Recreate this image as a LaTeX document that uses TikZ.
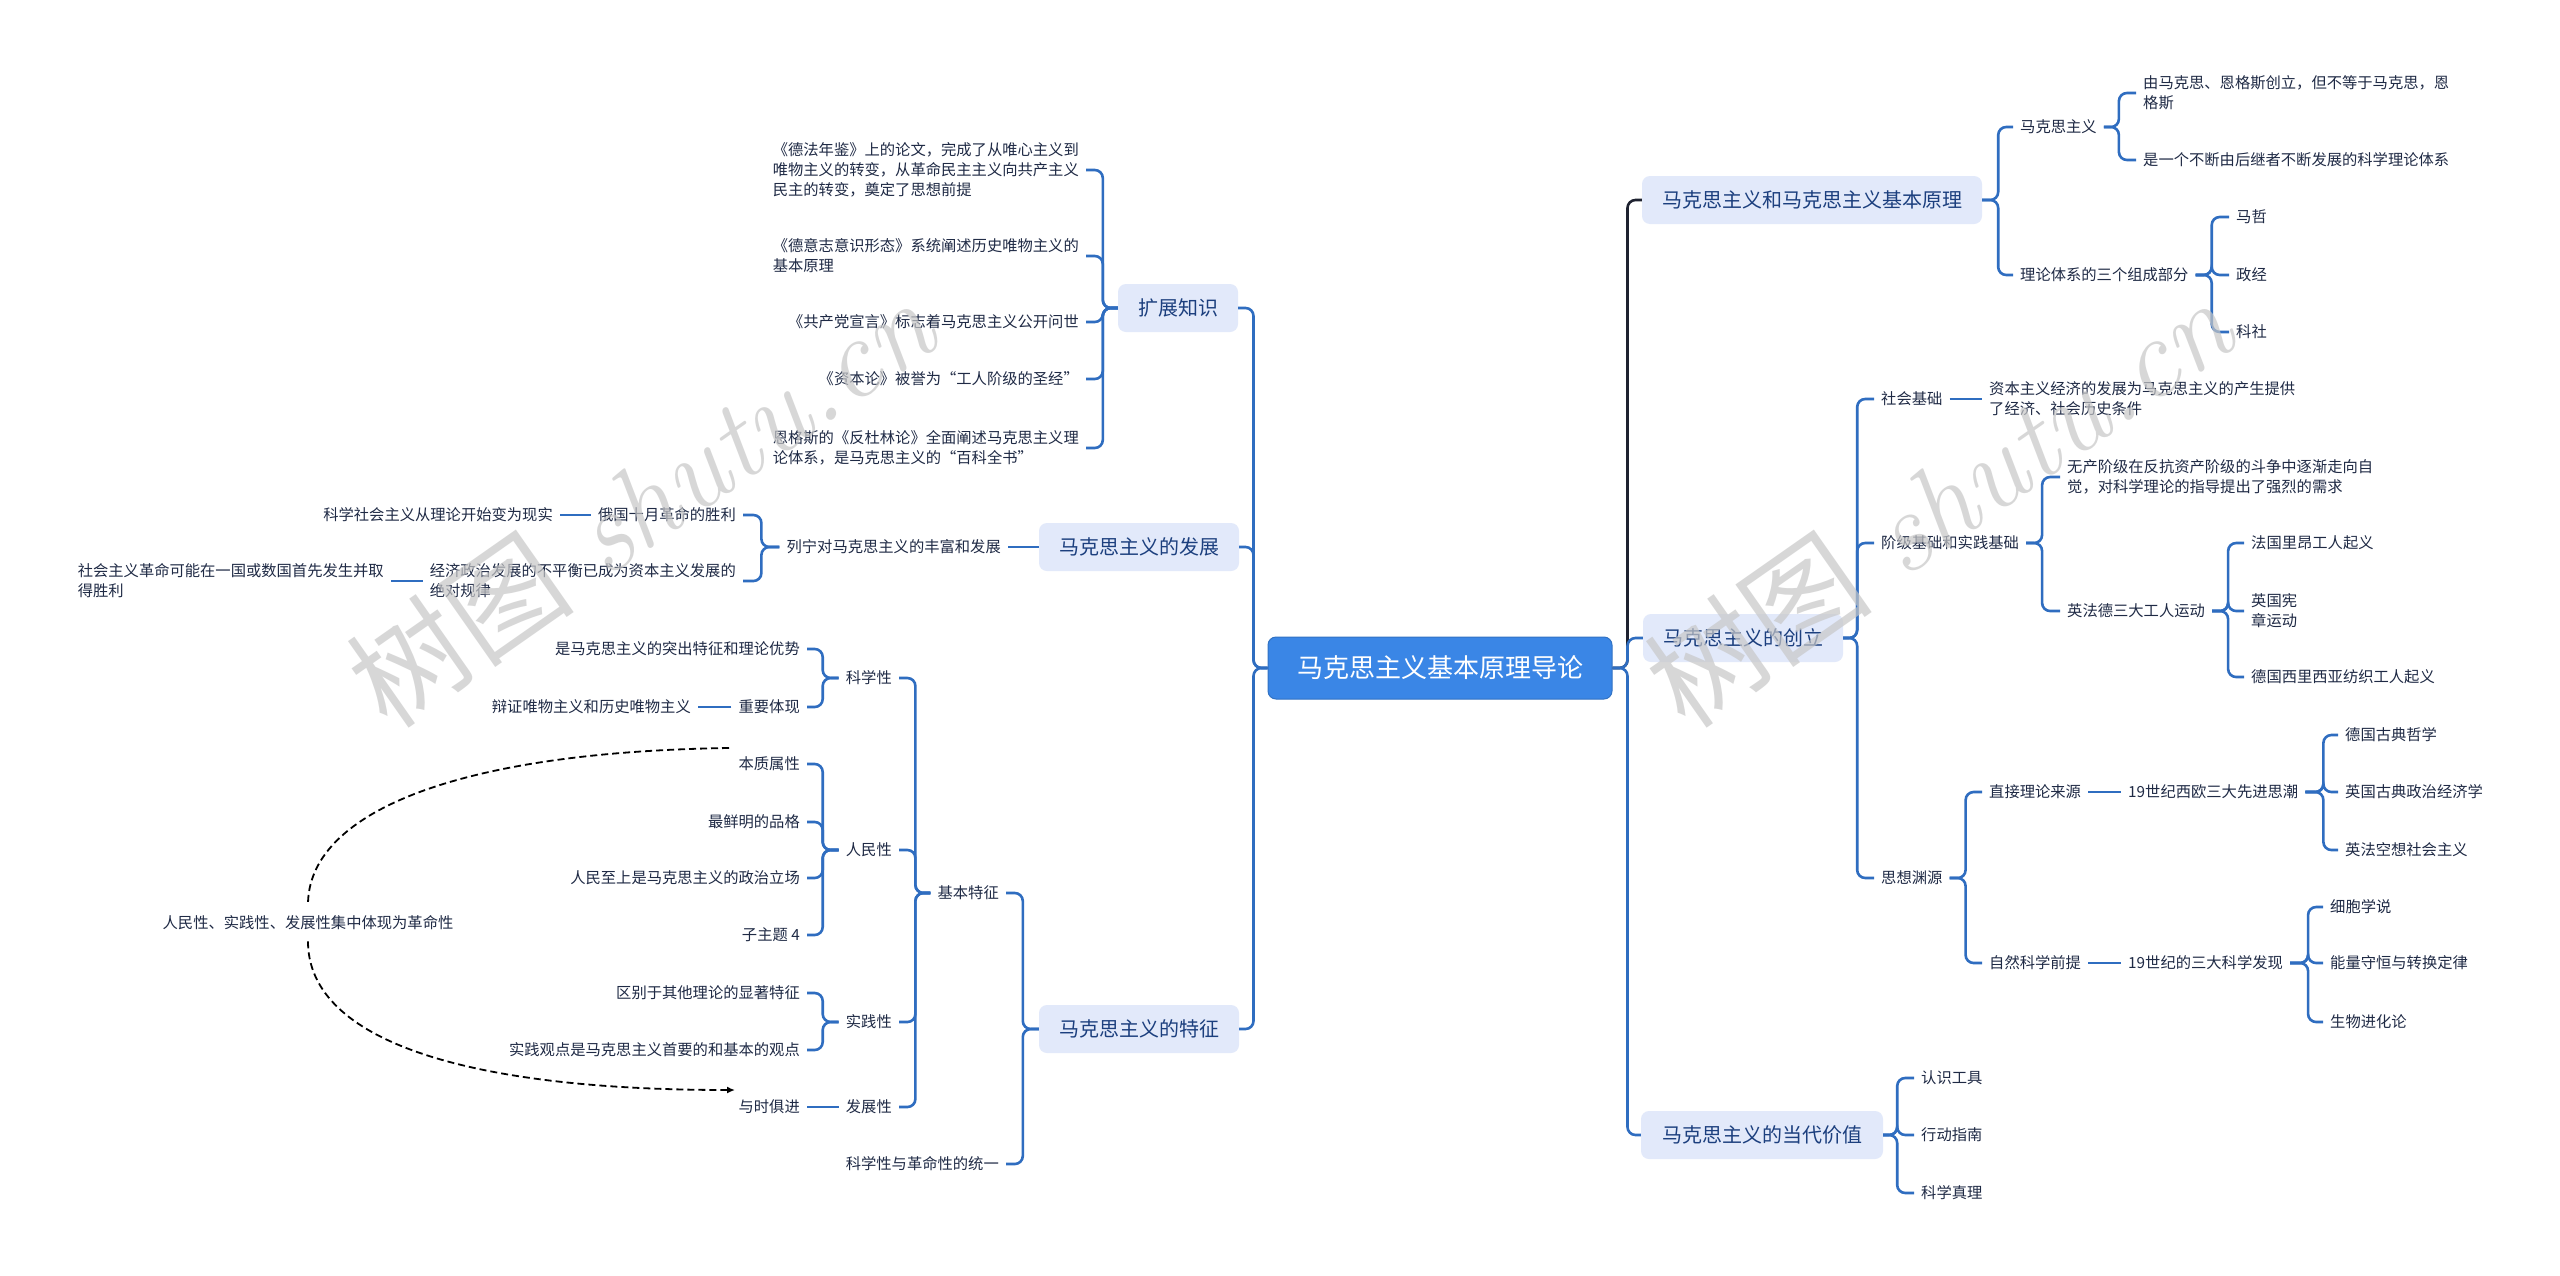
\documentclass[tikz,border=0pt]{standalone}
\usepackage{fontspec}
\newfontfamily\cjk{Noto Sans CJK SC}
\usetikzlibrary{arrows.meta}
\definecolor{trait}{HTML}{2F6DC0}
\definecolor{traitfonce}{HTML}{1E2230}
\definecolor{fondtheme}{HTML}{E2E9FA}
\definecolor{textetheme}{HTML}{1C3F7E}
\definecolor{texte}{HTML}{1F2A45}
\definecolor{fondracine}{HTML}{3A86E6}
\begin{document}
\begin{tikzpicture}[x=1pt,y=-1pt,
  feuille/.style={font=\cjk\fontsize{15.3}{20}\selectfont, text=texte, inner xsep=7pt, inner ysep=2pt, align=left},
  fd/.style={feuille, anchor=west, xshift=-7pt},
  fg/.style={feuille, anchor=east, xshift=7pt},
  theme/.style={rounded corners=8pt, fill=fondtheme, text=textetheme, font=\cjk\fontsize{20}{24}\selectfont, inner xsep=20pt, inner ysep=0pt, minimum height=48pt},
  racine/.style={rounded corners=8pt, fill=fondracine, draw=fondracine!85!black, line width=1pt, text=white, font=\cjk\fontsize{26}{30}\selectfont, inner xsep=29pt, minimum height=62pt},
  lien/.style={draw=trait, line width=2.6pt, rounded corners=8pt},
  lienfonce/.style={lien, draw=traitfonce},
  relation/.style={draw=black, line width=1.8pt, dash pattern=on 7pt off 4pt},
  filigrane/.style={text=black!22, opacity=.7, rotate=35, font=\fontsize{115}{120}\selectfont}]
  % Fond
  \useasboundingbox (0,0) rectangle (2560,1275);
  \fill[white] (0,0) rectangle (2560,1275);

  % Racine et themes
  \node[racine] (racine) at (1440,668) {马克思主义基本原理导论};
  \node[theme] (principes) at (1812,200) {马克思主义和马克思主义基本原理};
  \node[theme] (creation) at (1743,638) {马克思主义的创立};
  \node[theme, inner xsep=21pt] (valeur) at (1762,1135) {马克思主义的当代价值};
  \node[theme] (savoirs) at (1178,308) {扩展知识};
  \node[theme] (evolution) at (1139,547) {马克思主义的发展};
  \node[theme] (traits) at (1139,1029) {马克思主义的特征};

  % Principes
  \node[fd] (marxisme) at (2020,127) {马克思主义};
  \node[fd] (systeme) at (2020,275) {理论体系的三个组成部分};
  \node[fd] (fondA) at (2143,93) {由马克思、恩格斯创立，但不等于马克思，恩\\格斯};
  \node[fd] (fondB) at (2143,160) {是一个不断由后继者不断发展的科学理论体系};
  \node[fd] (philo) at (2236,217) {马哲};
  \node[fd] (eco) at (2236,275) {政经};
  \node[fd] (socia) at (2236,332) {科社};

  % Creation
  \node[fd] (social) at (1881,399) {社会基础};
  \node[fd] (conditions) at (1989,399) {资本主义经济的发展为马克思主义的产生提供\\了经济、社会历史条件};
  \node[fd] (classe) at (1881,543) {阶级基础和实践基础};
  \node[fd] (proletariat) at (2067,477) {无产阶级在反抗资产阶级的斗争中逐渐走向自\\觉，对科学理论的指导提出了强烈的需求};
  \node[fd] (ouvriers) at (2067,611) {英法德三大工人运动};
  \node[fd] (lyon) at (2251,543) {法国里昂工人起义};
  \node[fd] (chartisme) at (2251,611) {英国宪\\章运动};
  \node[fd] (silesie) at (2251,677) {德国西里西亚纺织工人起义};
  \node[fd] (sources) at (1881,878) {思想渊源};
  \node[fd] (directe) at (1989,792) {直接理论来源};
  \node[fd] (courants) at (2128,792) {19世纪西欧三大先进思潮};
  \node[fd] (hegel) at (2345,735) {德国古典哲学};
  \node[fd] (smith) at (2345,792) {英国古典政治经济学};
  \node[fd] (utopie) at (2345,850) {英法空想社会主义};
  \node[fd] (naturelle) at (1989,963) {自然科学前提};
  \node[fd] (decouvertes) at (2128,963) {19世纪的三大科学发现};
  \node[fd] (cellule) at (2330,907) {细胞学说};
  \node[fd] (energie) at (2330,963) {能量守恒与转换定律};
  \node[fd] (evolu) at (2330,1022) {生物进化论};

  % Valeur
  \node[fd] (outil) at (1921,1078) {认识工具};
  \node[fd] (guide) at (1921,1135) {行动指南};
  \node[fd] (verite) at (1921,1193) {科学真理};

  % Savoirs
  \node[fg] (annales) at (1079,170) {《德法年鉴》上的论文，完成了从唯心主义到\\唯物主义的转变，从革命民主主义向共产主义\\民主的转变，奠定了思想前提};
  \node[fg] (ideologie) at (1079,256) {《德意志意识形态》系统阐述历史唯物主义的\\基本原理};
  \node[fg] (manifeste) at (1079,322) {《共产党宣言》标志着马克思主义公开问世};
  \node[fg] (capital) at (1079,379) {《资本论》被誉为“工人阶级的圣经”};
  \node[fg] (duhring) at (1079,448) {恩格斯的《反杜林论》全面阐述马克思主义理\\论体系，是马克思主义的“百科全书”};

  % Evolution
  \node[fg] (lenine) at (1001,547) {列宁对马克思主义的丰富和发展};
  \node[fg] (octobre) at (736,515) {俄国十月革命的胜利};
  \node[fg] (realite) at (553,515) {科学社会主义从理论开始变为现实};
  \node[fg] (inegal) at (736,581) {经济政治发展的不平衡已成为资本主义发展的\\绝对规律};
  \node[fg] (victoire) at (384,581) {社会主义革命可能在一国或数国首先发生并取\\得胜利};

  % Traits
  \node[fg] (base) at (999,893) {基本特征};
  \node[fg] (unite) at (999,1164) {科学性与革命性的统一};
  \node[fg] (scient) at (892,678) {科学性};
  \node[fg] (peuple) at (892,850) {人民性};
  \node[fg] (pratique) at (892,1022) {实践性};
  \node[fg] (devel) at (892,1107) {发展性};
  \node[fg] (atout) at (800,649) {是马克思主义的突出特征和理论优势};
  \node[fg] (incarne) at (800,707) {重要体现};
  \node[fg] (materialisme) at (691,707) {辩证唯物主义和历史唯物主义};
  \node[fg] (essence) at (800,764) {本质属性};
  \node[fg] (qualite) at (800,822) {最鲜明的品格};
  \node[fg] (position) at (800,878) {人民至上是马克思主义的政治立场};
  \node[fg] (sujet) at (800,935) {子主题 4};
  \node[fg] (distinct) at (800,993) {区别于其他理论的显著特征};
  \node[fg] (primat) at (800,1050) {实践观点是马克思主义首要的和基本的观点};
  \node[fg] (avance) at (800,1107) {与时俱进};
  \node[feuille, inner ysep=11pt] (revol) at (308,923) {人民性、实践性、发展性集中体现为革命性};

  % Liens de la racine
  \draw[lienfonce] (racine.east) -- ++(15,0) |- (principes.west);
  \foreach \t in {creation,valeur} \draw[lien] (racine.east) -- ++(15,0) |- (\t.west);
  \foreach \t in {savoirs,evolution,traits} \draw[lien] (racine.west) -- ++(-14,0) |- (\t.east);

  % Liens a droite
  \foreach \t in {marxisme,systeme} \draw[lien] (principes.east) -- ++(16,0) |- (\t.west);
  \foreach \t in {fondA,fondB} \draw[lien] (marxisme.east) -- ++(15,0) |- (\t.west);
  \foreach \t in {philo,eco,socia} \draw[lien] (systeme.east) -- ++(16,0) |- (\t.west);
  \foreach \t in {social,classe,sources} \draw[lien] (creation.east) -- ++(14,0) |- (\t.west);
  \draw[lien] (social.east) -- (conditions.west);
  \foreach \t in {proletariat,ouvriers} \draw[lien] (classe.east) -- ++(16,0) |- (\t.west);
  \foreach \t in {lyon,chartisme,silesie} \draw[lien] (ouvriers.east) -- ++(16,0) |- (\t.west);
  \foreach \t in {directe,naturelle} \draw[lien] (sources.east) -- ++(16,0) |- (\t.west);
  \draw[lien] (directe.east) -- (courants.west);
  \draw[lien] (naturelle.east) -- (decouvertes.west);
  \foreach \t in {hegel,smith,utopie} \draw[lien] (courants.east) -- ++(18,0) |- (\t.west);
  \foreach \t in {cellule,energie,evolu} \draw[lien] (decouvertes.east) -- ++(18,0) |- (\t.west);
  \foreach \t in {outil,guide,verite} \draw[lien] (valeur.east) -- ++(14,0) |- (\t.west);

  % Liens a gauche
  \foreach \t in {annales,ideologie,manifeste,capital,duhring} \draw[lien] (savoirs.west) -- ++(-15,0) |- (\t.east);
  \draw[lien] (evolution.west) -- (lenine.east);
  \foreach \t in {octobre,inegal} \draw[lien] (lenine.west) -- ++(-18,0) |- (\t.east);
  \draw[lien] (octobre.west) -- (realite.east);
  \draw[lien] (inegal.west) -- (victoire.east);
  \foreach \t in {base,unite} \draw[lien] (traits.west) -- ++(-16,0) |- (\t.east);
  \foreach \t in {scient,peuple,pratique,devel} \draw[lien] (base.west) -- ++(-15,0) |- (\t.east);
  \foreach \t in {atout,incarne} \draw[lien] (scient.west) -- ++(-16,0) |- (\t.east);
  \draw[lien] (incarne.west) -- (materialisme.east);
  \foreach \t in {essence,qualite,position,sujet} \draw[lien] (peuple.west) -- ++(-16,0) |- (\t.east);
  \foreach \t in {distinct,primat} \draw[lien] (pratique.west) -- ++(-16,0) |- (\t.east);
  \draw[lien] (devel.west) -- (avance.east);

  % Relation en pointilles
  \coordinate (depart) at (729,748);
  \coordinate (arrivee) at (735,1090);
  \draw[relation] (depart) .. controls (450,752) and (308,815) .. (revol.north);
  \draw[relation, -{Latex[length=8pt,width=7pt]}] (revol.south) .. controls (308,1035) and (450,1090) .. (arrivee);

  % Filigranes
  \node[filigrane] at (640,502) {{\cjk 树图} {\rmfamily\itshape shutu.cn}};
  \node[filigrane] at (1938,502) {{\cjk 树图} {\rmfamily\itshape shutu.cn}};
\end{tikzpicture}
\end{document}
